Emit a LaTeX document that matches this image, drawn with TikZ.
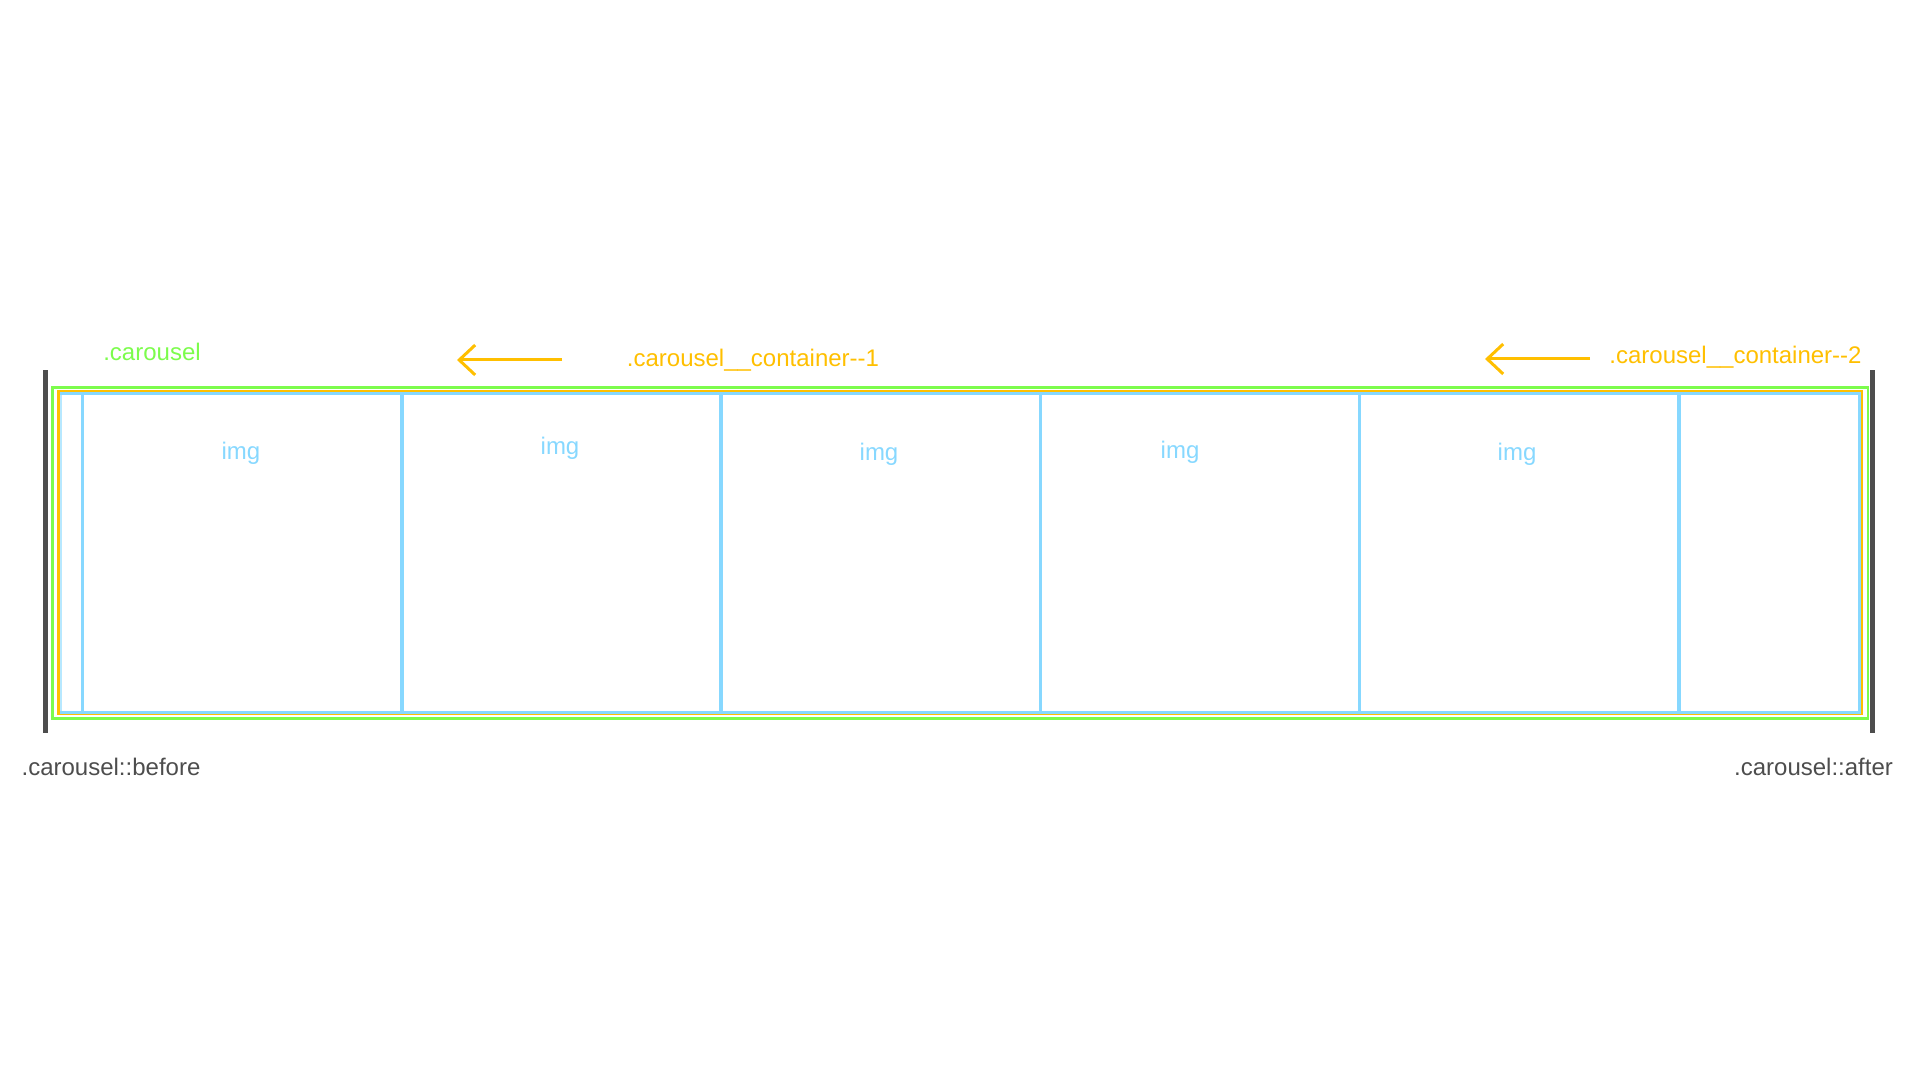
\documentclass[tikz,border=0pt]{standalone}
\usepackage{fontspec}
\setmainfont{Liberation Sans}
\usepackage{xcolor}
\usetikzlibrary{arrows.meta, positioning}

\definecolor{carouselgreen}{HTML}{7CFC4C}
\definecolor{containerorange}{HTML}{FFBF00}
\definecolor{imgblue}{HTML}{87D8FF}
\definecolor{pseudogray}{HTML}{4D4D4D}

\tikzset{
    label/.style={font=\fontsize{12pt}{14pt}\selectfont, inner sep=0pt, anchor=base},
    slideline/.style={containerorange, line width=1.5pt, -{Straight Barb[length=8pt, width=15pt]}}
}

\begin{document}
\begin{tikzpicture}[x=0.5pt, y=-0.5pt]
    \useasboundingbox (0,0) rectangle (1920,1080);

    % Pseudo elements
    \draw[pseudogray, line width=2.5pt] (45.5,370) -- (45.5,733);
    \draw[pseudogray, line width=2.5pt] (1872.5,370) -- (1872.5,733);

    % Carousel and containers
    \draw[imgblue!60, line width=1.5pt] (60,393.3) -- (60,712);
    \draw[carouselgreen, line width=1.35pt] (52.3,387.4) rectangle (1868,718.3);
    \draw[containerorange, line width=1.35pt] (58.5,391.4) rectangle (1862,714);

    % Images
    \draw[imgblue, line width=1.5pt] (60,393.3) -- (1859.6,393.3) -- (1859.6,712) -- (60,712);
    \foreach \x in {82.5, 401.8, 721.1, 1040.4, 1359.7, 1679} {
        \draw[imgblue, line width=1.7pt] (\x,393.3) -- (\x,712);
    }
    \foreach \n/\x/\y in {1/241/459, 2/560/454, 3/879/460, 4/1180/458, 5/1517/460} {
        \node[label, imgblue] (img\n) at (\x,\y) {img};
    }

    % Labels
    \node[label, carouselgreen] (carousel) at (152,361) {.carousel};
    \node[label, containerorange] (container1) at (753,366) {.carousel\_\_container{-}{-}1};
    \node[label, containerorange] (container2) at (1735.5,364) {.carousel\_\_container{-}{-}2};
    \node[label, pseudogray] (before) at (111,775) {.carousel::before};
    \node[label, pseudogray] (after) at (1813.5,775) {.carousel::after};

    % Slide direction arrows
    \coordinate (arrow1 tail) at (562,360);
    \coordinate (arrow1 head) at (457,360);
    \coordinate (arrow2 tail) at (1590,359);
    \coordinate (arrow2 head) at (1485,359);
    \draw[slideline] (arrow1 tail) -- (arrow1 head);
    \draw[slideline] (arrow2 tail) -- (arrow2 head);

\end{tikzpicture}
\end{document}
